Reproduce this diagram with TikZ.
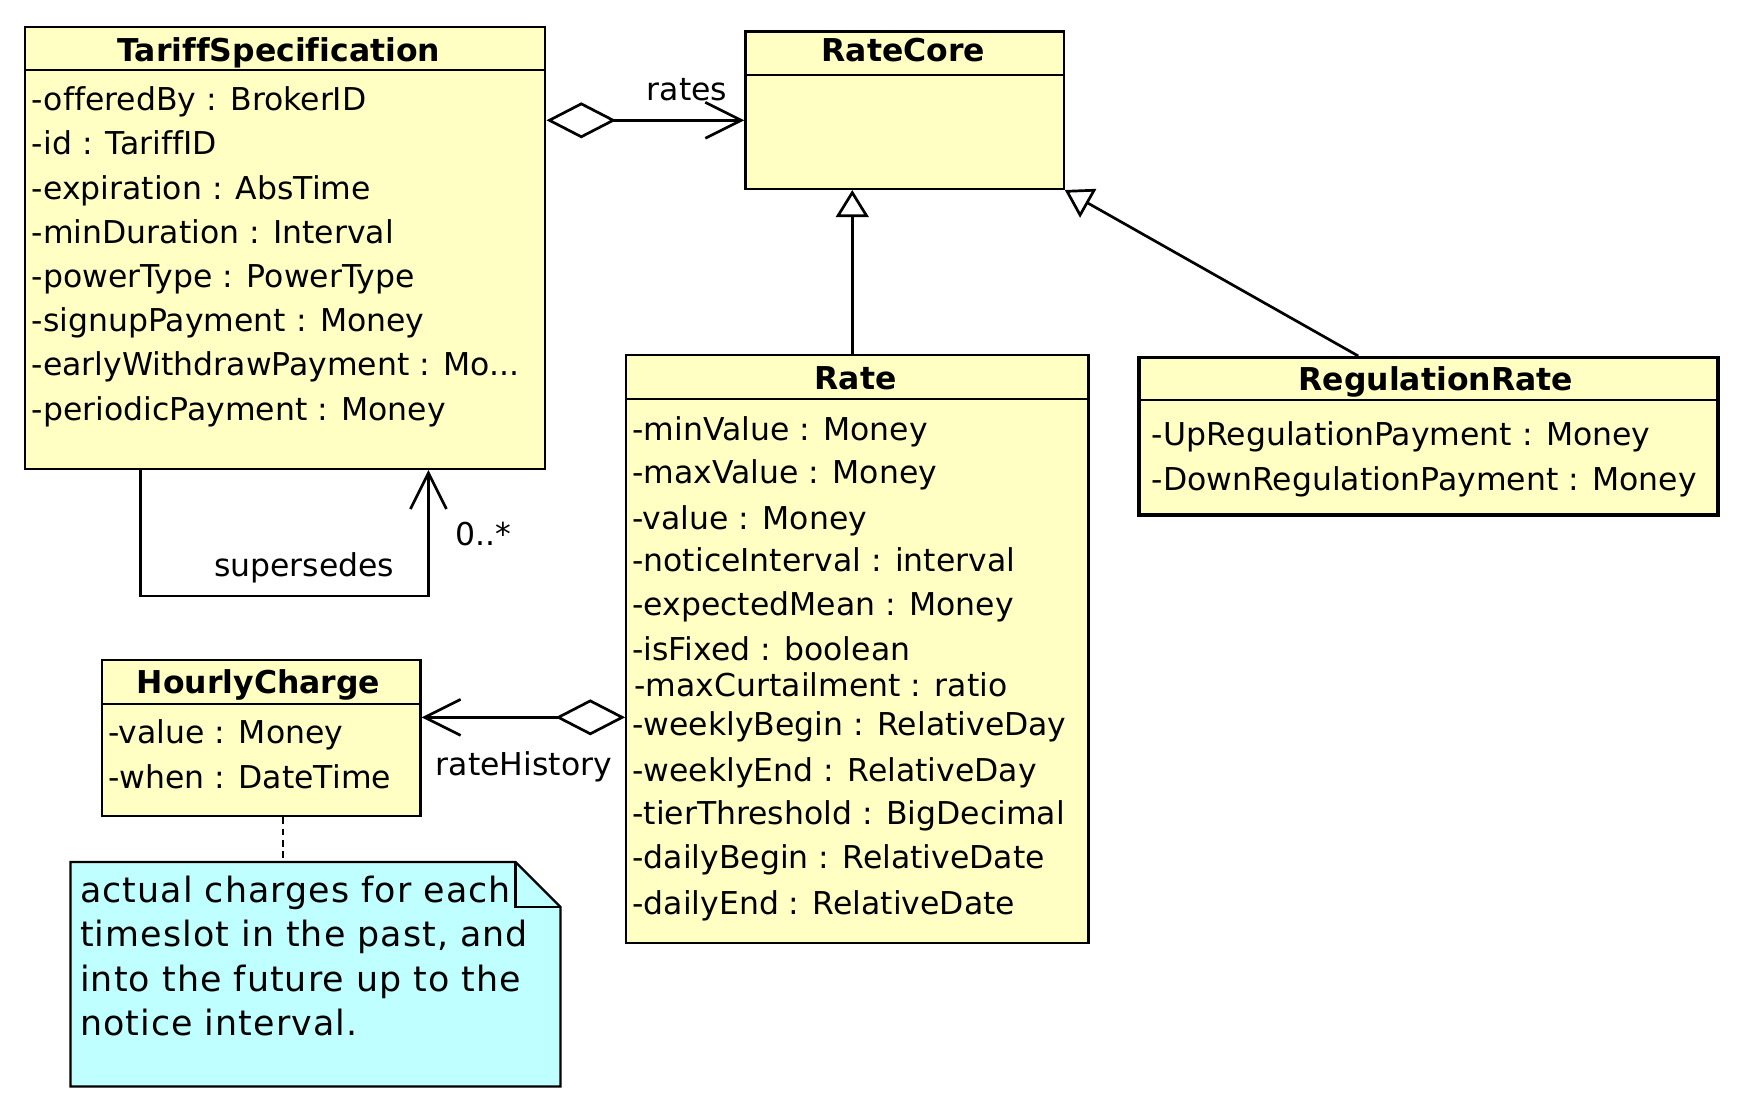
\documentclass[tikz,border=0pt]{standalone}
\usepackage{fontspec}
\setmainfont{DejaVu Sans}[Ligatures=NoCommon]
\usetikzlibrary{arrows.meta,fit}
\definecolor{umlyellow}{RGB}{255,255,196}
\definecolor{notecyan}{RGB}{191,255,255}
\newcommand{\attrsize}{\fontsize{14}{17}\selectfont}
\newcommand{\notesize}{\fontsize{15.5}{19}\selectfont}
\tikzset{
  umlbox/.style={draw=black, fill=umlyellow, line width=1pt, inner sep=0pt},
  attr/.style={anchor=base west, inner sep=0pt, font=\attrsize},
  ttl/.style={anchor=base, inner sep=0pt, font=\attrsize\bfseries},
  lbl/.style={anchor=base, inner sep=0pt, font=\attrsize},
  notetxt/.style={anchor=base west, inner sep=0pt, font=\notesize\addfontfeature{LetterSpace=3}},
  conn/.style={line width=1.2pt, draw=black},
  sep/.style={line width=1pt, draw=black},
  AggD/.tip={Diamond[fill=white, length=31pt, width=16pt]},
  OpenB/.tip={Straight Barb[length=16pt, width=16pt]},
  GenT/.tip={Triangle[fill=white, length=12pt, width=14.5pt]},
}
\begin{document}
\begin{tikzpicture}[x=0.5pt,y=-0.5pt]
\useasboundingbox (0,0) rectangle (1568,984);

% TariffSpecification
\node[umlbox, fit={(22,24)(485,417)}] (ts) {};
\draw[sep] ([yshift=-19.5pt]ts.north west) -- ([yshift=-19.5pt]ts.north east);
\node[ttl] (tsT) at (248,55) {TariffSpecification};
\node[attr] (ts1) at (28,98.5) {-offeredBy : BrokerID};
\node[attr] (ts2) at (28,137.8) {-id : TariffID};
\node[attr] (ts3) at (28,177.1) {-expiration : AbsTime};
\node[attr] (ts4) at (28,216.4) {-minDuration : Interval};
\node[attr] (ts5) at (28,255.7) {-powerType : PowerType};
\node[attr] (ts6) at (28,295) {-signupPayment : Money};
\node[attr] (ts7) at (28,334.3) {-earlyWithdrawPayment : Mo...};
\node[attr] (ts8) at (28,373.6) {-periodicPayment : Money};

% RateCore
\node[umlbox, fit={(663,28)(946,168)}] (rc) {};
\draw[sep] ([yshift=-20pt]rc.north west) -- ([yshift=-20pt]rc.north east);
\node[ttl] (rcT) at (803.5,54.5) {RateCore};

% Rate
\node[umlbox, fit={(557,316)(968,839)}] (ra) {};
\draw[sep] ([yshift=-20pt]ra.north west) -- ([yshift=-20pt]ra.north east);
\node[ttl] (raT) at (761,346) {Rate};
\node[attr] (ra1) at (562,392) {-minValue : Money};
\node[attr] (ra2) at (562,430) {-maxValue : Money};
\node[attr] (ra3) at (562,470.5) {-value : Money};
\node[attr] (ra4) at (562,508.5) {-noticeInterval : interval};
\node[attr] (ra5) at (562,547.5) {-expectedMean : Money};
\node[attr] (ra6) at (562,587.5) {-isFixed : boolean};
\node[attr] (ra7) at (564,619.5) {-maxCurtailment : ratio};
\node[attr] (ra8) at (562,654.5) {-weeklyBegin : RelativeDay};
\node[attr] (ra9) at (562,695.5) {-weeklyEnd : RelativeDay};
\node[attr] (ra10) at (562,733.5) {-tierThreshold : BigDecimal};
\node[attr] (ra11) at (562,772.5) {-dailyBegin : RelativeDate};
\node[attr] (ra12) at (562,813) {-dailyEnd : RelativeDate};

% RegulationRate
\node[umlbox, line width=1.4pt, fit={(1013,318)(1528,458)}] (rr) {};
\draw[sep] ([yshift=-19.5pt]rr.north west) -- ([yshift=-19.5pt]rr.north east);
\node[ttl] (rrT) at (1277,347) {RegulationRate};
\node[attr] (rr1) at (1024,396) {-UpRegulationPayment : Money};
\node[attr] (rr2) at (1024,436) {-DownRegulationPayment : Money};

% HourlyCharge
\node[umlbox, fit={(91,587)(374,726)}] (hc) {};
\draw[sep] ([yshift=-20pt]hc.north west) -- ([yshift=-20pt]hc.north east);
\node[ttl] (hcT) at (230,617) {HourlyCharge};
\node[attr] (hc1) at (96,661) {-value : Money};
\node[attr] (hc2) at (96,701) {-when : DateTime};

% Note
\node[inner sep=0pt, fit={(63,767)(498,966)}] (note) {};
\draw[line width=1pt, fill=notecyan]
  (note.north west) -- ([xshift=-20pt]note.north east) -- ([yshift=-20pt]note.north east)
  -- (note.south east) -- (note.south west) -- cycle;
\draw[line width=1pt] ([xshift=-20pt]note.north east) -- ([xshift=-20pt,yshift=-20pt]note.north east)
  -- ([yshift=-20pt]note.north east);
\node[notetxt] (n1) at (71,803) {actual charges for each};
\node[notetxt] (n2) at (71,842) {timeslot in the past, and};
\node[notetxt] (n3) at (71,882) {into the future up to the};
\node[notetxt] (n4) at (71,921) {notice interval.};

% Connectors
\draw[conn, AggD-OpenB] ([yshift=-42pt]ts.north east) -- ([yshift=-42pt]ts.north east -| rc.west);
\node[lbl] (lrates) at (611,89) {rates};

\draw[conn, -GenT] ([xshift=-2.25pt]ra.north) -- ([xshift=-2.25pt]ra.north |- rc.south);
\draw[conn, -GenT] ([xshift=-31.25pt]rr.north) -- (rc.south east);

\draw[conn, -OpenB] ([xshift=-64.25pt]ts.south) -- ++(0,112) -| ([xshift=63.75pt]ts.south);
\node[lbl] (lsup) at (270.5,513) {supersedes};
\node[lbl] (lmult) at (430,485) {0..*};

\draw[conn, AggD-OpenB] ([yshift=-30.25pt]ra.west) -- ([yshift=-30.25pt]ra.west -| hc.east);
\node[lbl] (lhist) at (466,690) {rateHistory};

\draw[line width=1pt, dash pattern=on 3pt off 2pt] ([xshift=9.75pt]hc.south) -- ([xshift=9.75pt]hc.south |- note.north);
\end{tikzpicture}
\end{document}
